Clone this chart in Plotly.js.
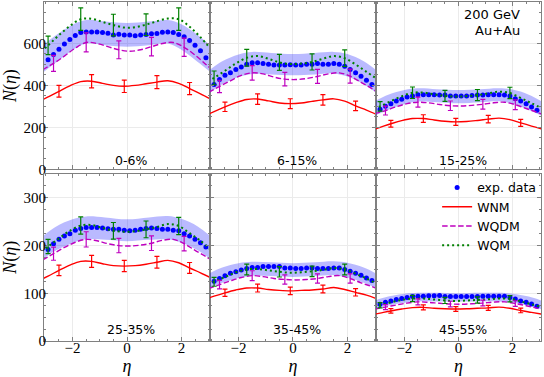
<!DOCTYPE html>
<html>
<head>
<meta charset="utf-8">
<script src="https://cdn.plot.ly/plotly-3.0.1.min.js"></script>
<style>
  html, body { margin: 0; padding: 0; background: #fff; }
  #plot { width: 544px; height: 377px; }
</style>
</head>
<body>
<div id="plot"></div>
<script>
// eta grids
const etaData = [-2.9, -2.7, -2.5, -2.3, -2.1, -1.9, -1.7, -1.5, -1.3, -1.1, -0.9, -0.7, -0.5, -0.3, -0.1,
                 0.1, 0.3, 0.5, 0.7, 0.9, 1.1, 1.3, 1.5, 1.7, 1.9, 2.1, 2.3, 2.5, 2.7, 2.9];
const etaA = [-3.3, -2.9, -2.5, -2.1, -1.7, -1.3, -0.9, -0.5, -0.1, 0.3, 0.7, 1.1, 1.5, 1.9, 2.3, 2.7, 3.1];
const etaB = [-3.1, -2.7, -2.3, -1.9, -1.5, -1.1, -0.7, -0.3, 0.1, 0.5, 0.9, 1.3, 1.7, 2.1, 2.5, 2.9, 3.3];
const etaBand = [-3.2, -2.6, -2.0, -1.5, -0.8, 0, 0.8, 1.5, 2.0, 2.6, 3.2];

// points of each model curve that carry an error bar
const errIdxWNM = [2, 5, 8, 11, 14];
const errIdxWQDM = [1, 4, 7, 10, 13];
const errIdxWQM = [1, 4, 7, 10, 13];

const centrality = ['0-6%', '6-15%', '15-25%', '25-35%', '35-45%', '45-55%'];

// experimental data (on etaData)
const exp_0_6 = [522, 547, 573, 598, 619, 638, 652, 655, 655, 655, 652, 649, 641, 644, 640, 641, 637, 641, 643, 646, 648, 654, 655, 652, 643, 632, 614, 592, 565, 532];
const exp_6_15 = [404, 428, 449, 461, 476, 488, 501, 508, 508, 505, 501, 498, 498, 497, 499, 498, 498, 501, 501, 505, 501, 501, 505, 501, 492, 476, 461, 444, 425, 404];
const exp_15_25 = [286, 301, 313, 326, 334, 345, 350, 355, 356, 356, 355, 354, 354, 350, 350, 350, 350, 352, 354, 354, 355, 356, 355, 354, 349, 337, 326, 313, 297, 281];
const exp_25_35 = [192, 204, 213, 220, 225, 232, 236, 238, 238, 238, 237, 235, 234, 234, 232, 231, 232, 234, 236, 237, 236, 234, 234, 232, 231, 225, 220, 213, 206, 197];
const exp_35_45 = [125, 131, 137, 142, 145, 149, 152, 154, 154, 156, 156, 156, 156, 153, 153, 152, 152, 153, 153, 152, 152, 152, 153, 153, 150, 146, 142, 138, 132, 127];
const exp_45_55 = [77, 81, 84, 87, 89, 91, 93, 94, 94, 95, 95, 95.5, 93, 93, 93, 93, 93, 93, 93, 94, 94, 94, 94, 94, 91, 88, 84, 81, 77.5, 73];

// uncertainty band of the data (on etaBand)
const bandHi_0_6 = [580, 640, 690, 712, 705, 698, 705, 712, 692, 640, 575];
const bandLo_0_6 = [450, 510, 568, 600, 592, 585, 592, 600, 570, 512, 450];
const bandHi_6_15 = [460, 515, 548, 560, 555, 550, 555, 560, 550, 515, 458];
const bandLo_6_15 = [350, 405, 440, 455, 452, 448, 452, 457, 442, 405, 350];
const bandHi_15_25 = [318, 355, 378, 386, 382, 378, 382, 387, 380, 356, 315];
const bandLo_15_25 = [250, 283, 310, 323, 320, 315, 320, 324, 312, 283, 248];
const bandHi_25_35 = [215, 240, 255, 261, 259, 255, 259, 262, 256, 240, 213];
const bandLo_25_35 = [168, 190, 205, 213, 212, 209, 212, 213, 206, 190, 166];
const bandHi_35_45 = [138, 154, 163, 166, 165, 163, 165, 167, 164, 154, 137];
const bandLo_35_45 = [108, 122, 132, 137, 136, 134, 136, 138, 133, 122, 107];
const bandHi_45_55 = [83, 93, 99, 101, 101, 100, 101, 101, 99, 93, 82];
const bandLo_45_55 = [65, 74, 80, 83, 83, 83, 83, 83, 80, 74, 64];

// WNM (on etaA)
const wnm_0_6 = [318, 345, 372, 398, 418, 420, 410, 400, 396, 400, 408, 416, 422, 410, 385, 360, 333];
const wnm_6_15 = [250, 275, 298, 318, 333, 335, 326, 316, 313, 316, 324, 331, 336, 325, 302, 282, 260];
const wnm_15_25 = [183, 200, 217, 232, 242, 242, 235, 229, 226, 228, 233, 239, 244, 237, 221, 206, 192];
const wnm_25_35 = [125, 136, 148, 159, 167, 167, 162, 158, 157, 158, 161, 165, 169, 164, 153, 143, 132];
const wnm_35_45 = [86, 94, 101, 107, 111, 111, 108, 106, 105, 106, 107, 109, 112, 108, 102, 96, 88];
const wnm_45_55 = [54, 58.5, 63, 67, 70, 70.5, 68.5, 67.5, 67, 67.5, 68.5, 69.5, 71, 68.5, 64, 60, 56];

// WQDM (on etaB)
const wqdm_0_6 = [475, 505, 540, 578, 605, 600, 585, 570, 563, 570, 585, 600, 605, 582, 545, 500, 455];
const wqdm_6_15 = [368, 395, 422, 448, 460, 455, 440, 430, 428, 433, 443, 455, 460, 444, 415, 385, 350];
const wqdm_15_25 = [265, 280, 298, 313, 320, 317, 309, 303, 302, 305, 310, 317, 320, 308, 290, 272, 252];
const wqdm_25_35 = [170, 183, 196, 207, 213, 210, 204, 200, 199, 201, 205, 211, 213, 204, 190, 177, 162];
const wqdm_35_45 = [110, 118, 126, 133, 137, 135, 131, 129, 128, 129, 131, 135, 137, 131, 122, 114, 104];
const wqdm_45_55 = [67, 71, 75.5, 79.5, 82, 81, 79, 77.5, 77, 78, 79.5, 81.5, 82, 78.5, 74, 69, 63];

// WQM (on etaA)
const wqm_0_6 = [545, 591, 640, 683, 716, 718, 703, 688, 676, 678, 690, 706, 719, 716, 680, 630, 570];
const wqm_6_15 = [410, 436, 470, 505, 532, 540, 527, 510, 502, 504, 512, 527, 540, 530, 500, 465, 430];
const wqm_15_25 = [280, 300, 325, 348, 365, 366, 358, 350, 347, 349, 354, 362, 370, 364, 340, 315, 290];
const wqm_25_35 = [182, 198, 215, 231, 242, 243, 237, 231, 229, 230, 234, 239, 245, 241, 226, 210, 190];
const wqm_35_45 = [115, 124, 134, 144, 150, 151, 148, 145, 143, 144, 146, 149, 153, 150, 141, 131, 119];
const wqm_45_55 = [69, 75, 81, 86, 89, 89, 87, 85, 84, 85, 86, 87.5, 89, 88.5, 83, 77, 71];

const panels = [
  {exp: exp_0_6, hi: bandHi_0_6, lo: bandLo_0_6, wnm: wnm_0_6, wqdm: wqdm_0_6, wqm: wqm_0_6},
  {exp: exp_6_15, hi: bandHi_6_15, lo: bandLo_6_15, wnm: wnm_6_15, wqdm: wqdm_6_15, wqm: wqm_6_15},
  {exp: exp_15_25, hi: bandHi_15_25, lo: bandLo_15_25, wnm: wnm_15_25, wqdm: wqdm_15_25, wqm: wqm_15_25},
  {exp: exp_25_35, hi: bandHi_25_35, lo: bandLo_25_35, wnm: wnm_25_35, wqdm: wqdm_25_35, wqm: wqm_25_35},
  {exp: exp_35_45, hi: bandHi_35_45, lo: bandLo_35_45, wnm: wnm_35_45, wqdm: wqdm_35_45, wqm: wqm_35_45},
  {exp: exp_45_55, hi: bandHi_45_55, lo: bandLo_45_55, wnm: wnm_45_55, wqdm: wqdm_45_55, wqm: wqm_45_55}
];

const RED = '#ff0000', MAG = '#bf00bf', GREEN = '#008000', BLUE = '#0000ff';
const serif = 'Liberation Serif, DejaVu Serif, serif';
const sans = 'DejaVu Sans, sans-serif';

const colDom = [[0, 0.334], [0.334, 0.668], [0.668, 1]];
const rowDom = [[0.5066, 1], [0, 0.494]];
const rowRange = [[0, 798], [0, 351]];
const rowDtick = [200, 100];
const rowMinor = [50, 25];

function errTrace(xs, ys, idx, color, ax) {
  return {
    x: idx.map(i => xs[i]), y: idx.map(i => ys[i]),
    mode: 'markers', marker: {opacity: 0, size: 2, color: color},
    error_y: {type: 'percent', value: 7.5, color: color, thickness: 1.2, width: 2.5},
    showlegend: false, hoverinfo: 'skip', xaxis: ax.x, yaxis: ax.y
  };
}

let traces = [];
let layout = {
  width: 544, height: 377,
  margin: {l: 44, r: 3, t: 1.5, b: 36},
  paper_bgcolor: '#fff', plot_bgcolor: '#fff',
  hovermode: false,
  showlegend: true,
  legend: {
    x: 0.791, y: 0.496, xanchor: 'left', yanchor: 'top', traceorder: 'normal',
    tracegroupgap: 1.5,
    bgcolor: 'rgba(0,0,0,0)', borderwidth: 0,
    font: {family: sans, size: 12.5, color: '#000'}
  },
  annotations: []
};

panels.forEach((p, i) => {
  const r = Math.floor(i / 3), c = i % 3;
  const n = i ? String(i + 1) : '';
  const ax = {x: 'x' + n, y: 'y' + n};
  const first = i === 0;

  traces.push({x: etaBand, y: p.lo, mode: 'lines', line: {width: 0, shape: 'spline'},
    showlegend: false, hoverinfo: 'skip', xaxis: ax.x, yaxis: ax.y});
  traces.push({x: etaBand, y: p.hi, mode: 'lines', line: {width: 0, shape: 'spline'},
    fill: 'tonexty', fillcolor: 'rgba(0,0,255,0.27)',
    showlegend: false, hoverinfo: 'skip', xaxis: ax.x, yaxis: ax.y});
  traces.push({x: etaData, y: p.exp, mode: 'markers', name: 'exp. data', legendgroup: 'exp',
    marker: {color: BLUE, size: 5}, showlegend: first, xaxis: ax.x, yaxis: ax.y});
  traces.push({x: etaA, y: p.wnm, mode: 'lines', name: 'WNM', legendgroup: 'wnm',
    line: {color: RED, width: 1.4, shape: 'spline'}, showlegend: first, xaxis: ax.x, yaxis: ax.y});
  traces.push({x: etaB, y: p.wqdm, mode: 'lines', name: 'WQDM', legendgroup: 'wqdm',
    line: {color: MAG, width: 1.4, dash: '5.5px,2.5px', shape: 'spline'}, showlegend: first, xaxis: ax.x, yaxis: ax.y});
  traces.push({x: etaA, y: p.wqm, mode: 'lines', name: 'WQM', legendgroup: 'wqm',
    line: {color: GREEN, width: 2, dash: '2px,3px', shape: 'spline'}, showlegend: first, xaxis: ax.x, yaxis: ax.y});
  traces.push(errTrace(etaA, p.wnm, errIdxWNM, RED, ax));
  traces.push(errTrace(etaB, p.wqdm, errIdxWQDM, MAG, ax));
  traces.push(errTrace(etaA, p.wqm, errIdxWQM, GREEN, ax));

  const common = {
    showline: true, linecolor: '#808080', linewidth: 1, mirror: 'ticks',
    ticks: 'inside', ticklen: 4, tickcolor: '#808080', tickwidth: 1,
    showgrid: true, gridcolor: '#ebebeb', gridwidth: 1, zeroline: false,
    tickfont: {family: serif, size: 15, color: '#000'}
  };
  layout['xaxis' + n] = Object.assign({}, common, {
    domain: colDom[c], anchor: ax.y, range: [-3.05, 3.05], autorange: false,
    dtick: 2, tick0: 0, showticklabels: r === 1, ticklabelstandoff: -7,
    minor: {dtick: 0.5, tick0: 0, ticks: 'inside', ticklen: 2, tickcolor: '#808080'},
    title: r === 1 ? {text: '<i>η</i>', font: {family: serif, size: 18, color: '#000'}, standoff: 4} : {text: ''}
  });
  layout['yaxis' + n] = Object.assign({}, common, {
    domain: rowDom[r], anchor: ax.x, range: rowRange[r], autorange: false,
    dtick: rowDtick[r], tick0: 0, showticklabels: c === 0, ticklabelstandoff: -6,
    minor: {dtick: rowMinor[r], tick0: 0, ticks: 'inside', ticklen: 2, tickcolor: '#808080'},
    title: c === 0 ? {text: '<i>N</i>(<i>η</i>)', font: {family: serif, size: 18, color: '#000'}, standoff: 2} : {text: ''}
  });

  layout.annotations.push({
    text: centrality[i], xref: ax.x, x: 0.15, yref: ax.y + ' domain', y: r === 0 ? 0.054 : 0.07,
    yanchor: 'middle', xanchor: 'center', showarrow: false,
    font: {family: sans, size: 12.5, color: '#000'}
  });
});

layout.annotations.push({
  text: '200 GeV', xref: 'x3 domain', x: 0.885, yref: 'y3 domain', y: 0.925,
  xanchor: 'right', yanchor: 'middle', showarrow: false,
  font: {family: sans, size: 13, color: '#000'}
});
layout.annotations.push({
  text: 'Au+Au', xref: 'x3 domain', x: 0.885, yref: 'y3 domain', y: 0.83,
  xanchor: 'right', yanchor: 'middle', showarrow: false,
  font: {family: sans, size: 13, color: '#000'}
});

Plotly.newPlot('plot', traces, layout, {displayModeBar: false, staticPlot: true});
</script>
</body>
</html>
